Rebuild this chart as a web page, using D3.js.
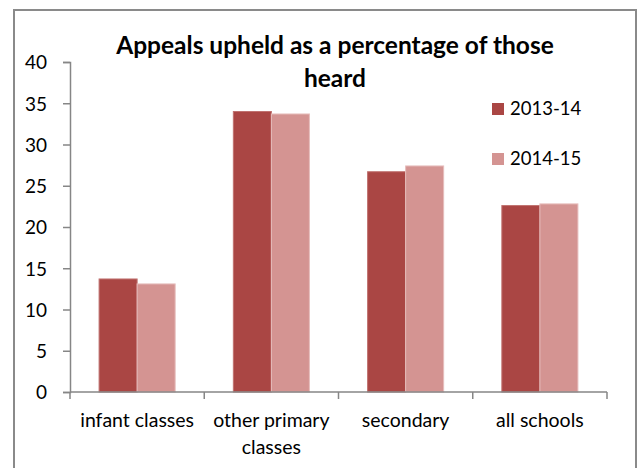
<!DOCTYPE html>
<html>
<head>
<meta charset="utf-8">
<script src="https://cdn.jsdelivr.net/npm/d3@7"></script>
<style>
  html, body { margin: 0; padding: 0; background: #fff; }
  svg { display: block; }
  text { font-family: Lato, "Open Sans", sans-serif; fill: #000; }
</style>
</head>
<body>
<svg id="chart" width="640" height="468"></svg>
<script>
const categories = ["infant classes", "other primary classes", "secondary", "all schools"];
const categoryLines = [["infant classes"], ["other primary", "classes"], ["secondary"], ["all schools"]];
const seriesNames = ["2013-14", "2014-15"];
const values2013 = [13.7, 34.0, 26.7, 22.6];
const values2014 = [13.1, 33.7, 27.4, 22.8];
const yTicks = [0, 5, 10, 15, 20, 25, 30, 35, 40];
const colors = ["#AA4644", "#D49492"];
const titleLines = ["Appeals upheld as a percentage of those", "heard"];

const svg = d3.select("#chart");

// outer border
svg.append("rect")
  .attr("x", 14).attr("y", 10)
  .attr("width", 622).attr("height", 470)
  .attr("fill", "#fff")
  .attr("stroke", "#8a8a8a").attr("stroke-width", 2);

const x = d3.scaleBand().domain(categories).range([70, 607]).paddingInner(0).paddingOuter(0);
const xs = d3.scaleBand().domain(seriesNames).range([0, x.bandwidth()]).paddingInner(0).paddingOuter(0.765);
const y = d3.scaleLinear().domain([0, 40]).range([392, 62]);

const seriesData = [values2013, values2014];

// bars
seriesNames.forEach((s, si) => {
  svg.append("g").selectAll("rect")
    .data(categories.map((c, i) => ({ c, v: seriesData[si][i] })))
    .join("rect")
    .attr("x", d => x(d.c) + xs(s))
    .attr("y", d => y(d.v))
    .attr("width", xs.bandwidth())
    .attr("height", d => y(0) - y(d.v))
    .attr("fill", colors[si])
    .attr("stroke", si === 0 ? "#C07270" : "#E6BDBC")
    .attr("stroke-width", 1);
});

// y axis
const yAxis = d3.axisLeft(y).tickValues(yTicks).tickSize(7).tickPadding(16);
const gy = svg.append("g").attr("transform", "translate(70,0)").call(yAxis);
gy.select(".domain").attr("stroke", "#868686").attr("stroke-width", 1.5);
gy.selectAll(".tick line").attr("stroke", "#868686").attr("stroke-width", 1.5);
gy.selectAll(".tick text").attr("font-size", 19).attr("font-family", "Lato, sans-serif").attr("fill", "#000").attr("dy", "0.36em");

// x axis
const gx = svg.append("g").attr("transform", "translate(0,392)");
gx.append("line").attr("x1", 70).attr("x2", 607).attr("y1", 0).attr("y2", 0)
  .attr("stroke", "#868686").attr("stroke-width", 1.5);
const boundaries = categories.map(c => x(c)).concat([x(categories[categories.length - 1]) + x.bandwidth()]);
gx.selectAll("line.tk").data(boundaries).join("line").attr("class", "tk")
  .attr("x1", d => d).attr("x2", d => d).attr("y1", 0).attr("y2", 7)
  .attr("stroke", "#868686").attr("stroke-width", 1.5);
categories.forEach((c, i) => {
  const t = gx.append("text")
    .attr("x", x(c) + x.bandwidth() / 2)
    .attr("text-anchor", "middle")
    .attr("font-size", 19.5);
  categoryLines[i].forEach((ln, li) => {
    t.append("tspan").attr("x", x(c) + x.bandwidth() / 2).attr("y", 35 + li * 27).text(ln);
  });
});

// title
titleLines.forEach((ln, i) => {
  svg.append("text")
    .attr("x", 335).attr("y", 54 + i * 33)
    .attr("text-anchor", "middle")
    .attr("font-size", 24.5).attr("font-weight", "bold")
    .text(ln);
});

// legend
seriesNames.forEach((s, i) => {
  const ly = 115 + i * 50;
  svg.append("rect").attr("x", 492).attr("y", ly - 12).attr("width", 12).attr("height", 12).attr("fill", colors[i]);
  svg.append("text").attr("x", 510).attr("y", ly).attr("font-size", 18.5).text(s);
});
</script>
</body>
</html>
